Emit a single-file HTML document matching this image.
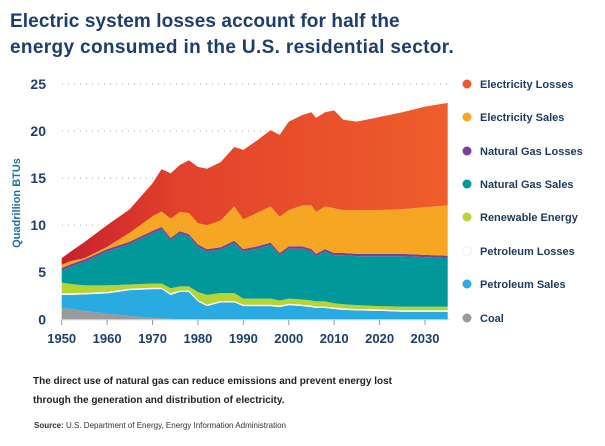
<!DOCTYPE html>
<html><head><meta charset="utf-8"><style>
body{margin:0;background:#fff;width:605px;height:446px;overflow:hidden;font-family:"Liberation Sans",sans-serif;}
svg{position:absolute;left:0;top:0}
</style></head><body>
<svg id="c" width="605" height="446">
<defs><linearGradient id="lossgrad" x1="0" x2="1" y1="0" y2="0">
<stop offset="0" stop-color="#c8202c"/><stop offset="0.3" stop-color="#e2412b"/><stop offset="1" stop-color="#ee5e2b"/></linearGradient></defs>
<text x="10" y="27" font-size="19" font-weight="bold" fill="#1c3e6e" letter-spacing="0.1">Electric system losses account for half the</text>
<text x="10" y="53" font-size="19" font-weight="bold" fill="#1c3e6e" letter-spacing="0.35">energy consumed in the U.S. residential sector.</text>
<g id="grid"></g><g id="areas"></g><g id="axes"></g><g id="legend"></g>
<text transform="translate(20,203) rotate(-90)" text-anchor="middle" font-size="11" font-weight="bold" fill="#1f6fa3">Quadrillion BTUs</text>
<text x="33" y="384" font-size="10" font-weight="bold" fill="#222">The direct use of natural gas can reduce emissions and prevent energy lost</text>
<text x="33" y="403" font-size="10" font-weight="bold" fill="#222">through the generation and distribution of electricity.</text>
<text x="34" y="428" font-size="8" fill="#333"><tspan font-weight="bold">Source:</tspan> U.S. Department of Energy, Energy Information Administration</text>
</svg>
<script>
const years=[1950,1952,1955,1960,1965,1970,1972,1974,1976,1978,1980,1982,1985,1988,1990,1993,1996,1998,2000,2003,2005,2006,2008,2010,2012,2015,2020,2025,2030,2035];
const coal=[1.2,1.1,0.9,0.6,0.35,0.15,0.1,0.05,0,0,0,0,0,0,0,0,0,0,0,0,0,0,0,0,0,0,0,0,0,0];
const petroleumSales=[1.4,1.5,1.75,2.15,2.75,3.05,3.1,2.55,2.9,2.9,1.9,1.4,1.8,1.8,1.4,1.4,1.4,1.3,1.5,1.4,1.3,1.2,1.2,1.1,1.0,0.95,0.9,0.8,0.8,0.8];
const petroleumLosses=[0.15,0.15,0.15,0.15,0.15,0.15,0.15,0.15,0.15,0.15,0.15,0.15,0.15,0.15,0.15,0.15,0.15,0.15,0.15,0.15,0.15,0.15,0.15,0.15,0.15,0.15,0.15,0.15,0.15,0.15];
const renewable=[1.15,1.0,0.8,0.7,0.45,0.45,0.45,0.55,0.45,0.45,0.85,1.05,0.85,0.85,0.65,0.65,0.65,0.55,0.55,0.55,0.55,0.55,0.55,0.45,0.45,0.4,0.35,0.4,0.4,0.4];
const gasSales=[1.3,1.85,2.5,3.6,4.3,5.35,5.75,5.1,5.6,5.3,4.8,4.6,4.6,5.3,5.0,5.3,5.7,4.8,5.3,5.4,5.2,4.8,5.3,5.1,5.2,5.2,5.3,5.35,5.25,5.15];
const gasLosses=[0.25,0.25,0.25,0.25,0.25,0.25,0.25,0.25,0.25,0.25,0.25,0.25,0.25,0.25,0.25,0.25,0.25,0.25,0.25,0.25,0.25,0.25,0.25,0.25,0.25,0.25,0.25,0.25,0.25,0.25];
const elecSales=[0.35,0.35,0.15,0.25,0.95,1.55,1.65,2.05,2.05,2.25,2.25,2.55,2.85,3.65,3.15,3.55,3.85,3.85,3.85,4.35,4.65,4.45,4.55,4.75,4.55,4.65,4.65,4.75,5.05,5.35];
const elecLosses=[0.7,1.0,1.7,2.3,2.5,3.5,4.5,4.8,5.0,5.6,6.0,6.0,6.2,6.3,7.4,7.7,8.1,8.7,9.4,9.6,9.9,10.0,10.0,10.4,9.6,9.4,9.9,10.3,10.7,10.9];
const yTicks=[0,5,10,15,20,25];
const xTicks=[1950,1960,1970,1980,1990,2000,2010,2020,2030];
const seriesNames=["Coal","Petroleum Sales","Petroleum Losses","Renewable Energy","Natural Gas Sales","Natural Gas Losses","Electricity Sales","Electricity Losses"];
const seriesColors=["#9a9a9a","#29aae1","#ffffff","#b8d432","#00989b","#7b3f98","#f5a623","url(#lossgrad)"];
const legendColors=["#9a9a9a","#29aae1","#ffffff","#b8d432","#00989b","#7b3f98","#f5a623","#ee5a2b"];
const series=[coal,petroleumSales,petroleumLosses,renewable,gasSales,gasLosses,elecSales,elecLosses];
const NS="http://www.w3.org/2000/svg";
const x=v=>61.7+(v-1950)*(425-61.7)/80;
const y=v=>319.3-v*(319.3-84)/25;
const grid=document.getElementById('grid'),areas=document.getElementById('areas'),axes=document.getElementById('axes'),legend=document.getElementById('legend');
yTicks.forEach(t=>{
  if(t>0){const l=document.createElementNS(NS,'line');
  l.setAttribute('x1',62);l.setAttribute('x2',450);l.setAttribute('y1',y(t));l.setAttribute('y2',y(t));
  l.setAttribute('stroke','#b8b8b8');l.setAttribute('stroke-dasharray','1 5');l.setAttribute('stroke-width','1.2');
  
  
  grid.appendChild(l);}
  const tx=document.createElementNS(NS,'text');
  tx.setAttribute('x',46);tx.setAttribute('y',y(t)+5);tx.setAttribute('text-anchor','end');
  tx.setAttribute('font-size','14');tx.setAttribute('font-weight','bold');tx.setAttribute('fill','#1c3e6e');
  tx.textContent=t;
  
  
  axes.appendChild(tx);
});
let base=years.map(()=>0);
series.forEach((s,i)=>{
  const top=base.map((b,j)=>b+s[j]);
  let d='M'+years.map((yr,j)=>x(yr)+','+y(top[j])).join('L');
  for(let j=years.length-1;j>=0;j--) d+='L'+x(years[j])+','+y(base[j]);
  d+='Z';
  const p=document.createElementNS(NS,'path');
  p.setAttribute('d',d);p.setAttribute('fill',seriesColors[i]);
  
  
  areas.appendChild(p);
  base=top;
});
const ax=document.createElementNS(NS,'line');
ax.setAttribute('x1',61);ax.setAttribute('x2',449);ax.setAttribute('y1',319.8);ax.setAttribute('y2',319.8);ax.setAttribute('stroke','#ccc');


axes.appendChild(ax);
xTicks.forEach(t=>{
  const l=document.createElementNS(NS,'line');
  l.setAttribute('x1',x(t));l.setAttribute('x2',x(t));l.setAttribute('y1',320);l.setAttribute('y2',325);l.setAttribute('stroke','#999');
  
  
  axes.appendChild(l);
  const tx=document.createElementNS(NS,'text');
  tx.setAttribute('x',x(t));tx.setAttribute('y',343);tx.setAttribute('text-anchor','middle');
  tx.setAttribute('font-size','13');tx.setAttribute('font-weight','bold');tx.setAttribute('fill','#1c3e6e');
  tx.textContent=t;
  
  
  axes.appendChild(tx);
});
const legendY=[318,284,251,217,184,151,117,84];
seriesNames.forEach((n,i)=>{
  const g=document.createElementNS(NS,'g');
  
  
  const c=document.createElementNS(NS,'circle');
  c.setAttribute('cx',467);c.setAttribute('cy',legendY[i]);c.setAttribute('r',4.5);
  c.setAttribute('fill',legendColors[i]);
  if(i===2){c.setAttribute('stroke','#e8e8e8');c.setAttribute('stroke-width','0.8');}
  g.appendChild(c);
  const t=document.createElementNS(NS,'text');
  t.setAttribute('x',480);t.setAttribute('y',legendY[i]+4);t.setAttribute('font-size','11');
  t.setAttribute('font-weight','bold');t.setAttribute('fill','#1c3a5e');
  t.textContent=n;
  g.appendChild(t);
  legend.appendChild(g);
});
</script>
</body></html>
